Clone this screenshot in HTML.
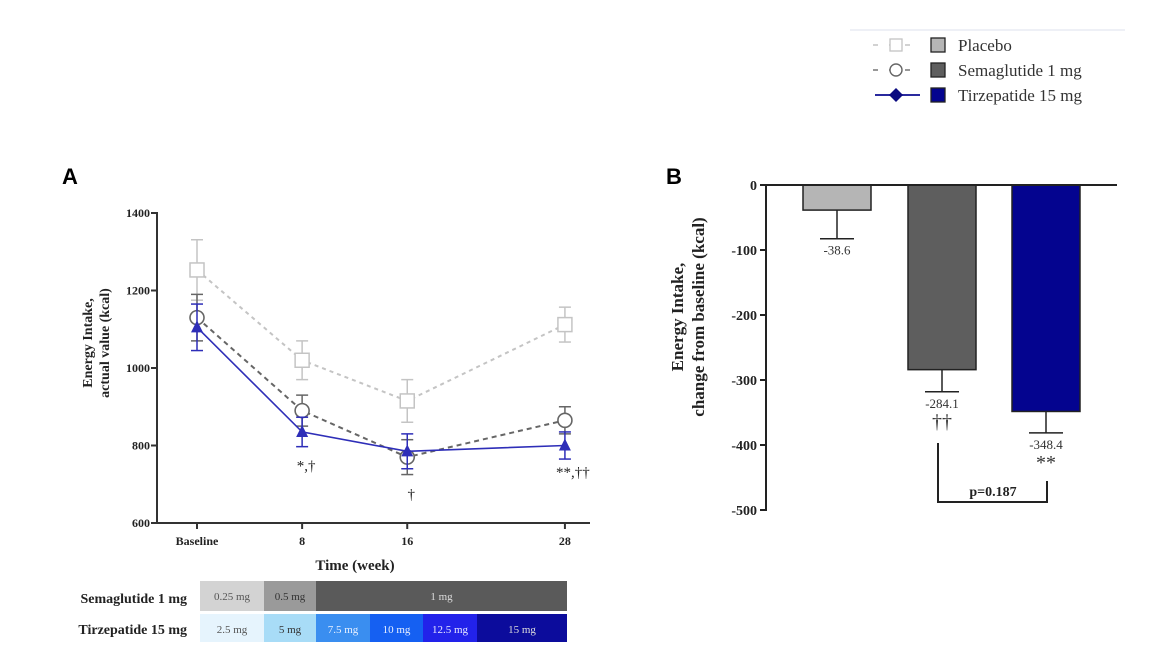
<!DOCTYPE html>
<html><head><meta charset="utf-8"><style>
body{margin:0;background:#fff}
svg{display:block;font-family:"Liberation Serif",serif}
</style></head><body>
<svg id="c" width="1170" height="667" viewBox="0 0 1170 667"></svg>
<script>
const weeks=[0,8,16,28];
const weekLabels=["Baseline","8","16","28"];
const placeboMean=[1253,1020,915,1112];
const placeboErr=[78,50,55,45];
const semaMean=[1130,890,770,865];
const semaErr=[60,40,45,35];
const tirzMean=[1105,835,785,800];
const tirzErr=[60,38,45,35];
const yTicksA=[600,800,1000,1200,1400];
const sigA=["","*,†","†","**,††"];
const barCats=["Placebo","Semaglutide 1 mg","Tirzepatide 15 mg"];
const barVals=[-38.6,-284.1,-348.4];
const barErr=[44,34,33];
const barSig=["","††","**"];
const yTicksB=[0,-100,-200,-300,-400,-500];

const S=document.getElementById('c');const NS='http://www.w3.org/2000/svg';
function el(t,a,p){const e=document.createElementNS(NS,t);for(const k in a)e.setAttribute(k,a[k]);(p||S).appendChild(e);return e;}
function tx(x,y,s,a,p){const e=el('text',Object.assign({x:x,y:y},a),p);e.textContent=s;return e;}

const xA=w=>197+w*13.14;
const yA=v=>523-(v-600)*0.3875;
const gA=el('g',{});
tx(62,184,'A',{'font-family':'Liberation Sans,sans-serif','font-weight':'bold','font-size':22},gA);
el('line',{x1:157,y1:212,x2:157,y2:524,stroke:'#333','stroke-width':2},gA);
el('line',{x1:156,y1:523,x2:590,y2:523,stroke:'#333','stroke-width':2},gA);
yTicksA.forEach(v=>{el('line',{x1:151,y1:yA(v),x2:157,y2:yA(v),stroke:'#333','stroke-width':2},gA);
 const t=tx(150,yA(v)+4,v,{'text-anchor':'end','font-size':12,'font-weight':'bold',fill:'#222'},gA);});
weeks.forEach((w,i)=>{el('line',{x1:xA(w),y1:523,x2:xA(w),y2:529,stroke:'#333','stroke-width':2},gA);
 const t=tx(xA(w),545,weekLabels[i],{'text-anchor':'middle','font-size':12,'font-weight':'bold',fill:'#222'},gA);});
const xt=tx(355,570,'Time (week)',{'text-anchor':'middle','font-size':15,'font-weight':'bold',fill:'#222'},gA);

const yt=el('text',{transform:'translate(98,343) rotate(-90)','text-anchor':'middle','font-size':14,'font-weight':'bold',fill:'#222'},gA);

el('tspan',{x:0,dy:-6},yt).textContent='Energy Intake,';el('tspan',{x:0,dy:17},yt).textContent='actual value (kcal)';

function series(mean,err,color,dash,marker,name){
 const g=el('g',{},gA);
 mean.forEach((m,i)=>{const x=xA(weeks[i]);
  el('line',{x1:x,y1:yA(m-err[i]),x2:x,y2:yA(m+err[i]),stroke:color,'stroke-width':1.5},g);
  [m-err[i],m+err[i]].forEach(v=>el('line',{x1:x-6,y1:yA(v),x2:x+6,y2:yA(v),stroke:color,'stroke-width':1.5},g));});
 el('polyline',{points:mean.map((m,i)=>xA(weeks[i])+','+yA(m)).join(' '),fill:'none',stroke:color,'stroke-width':dash?2:1.6,'stroke-dasharray':dash||'none'},g);
 mean.forEach((m,i)=>{const x=xA(weeks[i]),y=yA(m);let e;
  if(marker==='sq')e=el('rect',{x:x-7,y:y-7,width:14,height:14,fill:'#fff',stroke:color,'stroke-width':1.5},g);
  else if(marker==='ci')e=el('circle',{cx:x,cy:y,r:7,fill:'#fff',stroke:color,'stroke-width':1.6},g);
  else e=el('polygon',{points:`${x},${y-7} ${x-6},${y+5} ${x+6},${y+5}`,fill:color},g);
  });
}
series(placeboMean,placeboErr,'#c4c4c4','4,4','sq','placebo-series');
series(semaMean,semaErr,'#666','5,4','ci','semaglutide-series');
series(tirzMean,tirzErr,'#2e2eb8',null,'tri','tirzepatide-series');
const sigOff=[0,24,30,18];
sigA.forEach((s,i)=>{if(!s)return;const t=tx(xA(weeks[i])+(i===3?8:4),yA(tirzMean[i]-tirzErr[i])+sigOff[i],s,{'text-anchor':'middle','font-size':15,fill:'#222'},gA);});

const dg=el('g',{});
tx(187,603,'Semaglutide 1 mg',{'text-anchor':'end','font-size':14,'font-weight':'bold',fill:'#222'},dg);
tx(187,634,'Tirzepatide 15 mg',{'text-anchor':'end','font-size':14,'font-weight':'bold',fill:'#222'},dg);
const sem=[[200,264,'#d3d3d3','0.25 mg','#555'],[264,316,'#9a9a9a','0.5 mg','#333'],[316,567,'#5a5a5a','1 mg','#ddd']];
const tir=[[200,264,'#e6f4fd','2.5 mg','#555'],[264,316,'#a8dcf7','5 mg','#333'],[316,370,'#3a8ef0','7.5 mg','#e8f0ff'],[370,423,'#1560f2','10 mg','#e8f0ff'],[423,477,'#2222ea','12.5 mg','#e8e8ff'],[477,567,'#0c0c9c','15 mg','#ddd']];
sem.forEach(b=>{const r=el('rect',{x:b[0],y:581,width:b[1]-b[0],height:30,fill:b[2]},dg);tx((b[0]+b[1])/2,600,b[3],{'text-anchor':'middle','font-size':11,fill:b[4]},dg);});
tir.forEach(b=>{const r=el('rect',{x:b[0],y:614,width:b[1]-b[0],height:28,fill:b[2]},dg);tx((b[0]+b[1])/2,633,b[3],{'text-anchor':'middle','font-size':11,fill:b[4]},dg);});

const yB=v=>185-v*0.65;
const gB=el('g',{});
tx(666,184,'B',{'font-family':'Liberation Sans,sans-serif','font-weight':'bold','font-size':22},gB);
const barColors=['#b5b5b5','#5e5e5e','#04048f'];
const barX=[803,908,1012];const bw=68;
barVals.forEach((v,i)=>{const x=barX[i];
 const r=el('rect',{x:x,y:yB(0),width:bw,height:yB(v)-yB(0),fill:barColors[i],stroke:'#222','stroke-width':1.5},gB);
 
 const cx=x+bw/2,ye=yB(v-barErr[i]);
 el('line',{x1:cx,y1:yB(v),x2:cx,y2:ye,stroke:'#222','stroke-width':1.5},gB);
 el('line',{x1:cx-17,y1:ye,x2:cx+17,y2:ye,stroke:'#222','stroke-width':1.5},gB);
 const l=tx(cx,ye+16,v.toFixed(1),{'text-anchor':'middle','font-size':13,fill:'#333'},gB);
 if(barSig[i]){const s=tx(cx,ye+36,barSig[i],{'text-anchor':'middle','font-size':20,fill:'#333'},gB);}
});
el('line',{x1:766,y1:184,x2:766,y2:511,stroke:'#222','stroke-width':2},gB);
el('line',{x1:765,y1:185,x2:1117,y2:185,stroke:'#222','stroke-width':2},gB);
yTicksB.forEach(v=>{el('line',{x1:760,y1:yB(v),x2:766,y2:yB(v),stroke:'#222','stroke-width':2},gB);
 const t=tx(757,yB(v)+5,v,{'text-anchor':'end','font-size':14,'font-weight':'bold',fill:'#222'},gB);});
const ytb=el('text',{transform:'translate(689,317) rotate(-90)','text-anchor':'middle','font-size':17,'font-weight':'bold',fill:'#222'},gB);

el('tspan',{x:0,dy:-6},ytb).textContent='Energy Intake,';el('tspan',{x:0,dy:21},ytb).textContent='change from baseline (kcal)';
const br=el('polyline',{points:'938,443 938,502 1047,502 1047,481',fill:'none',stroke:'#222','stroke-width':2},gB);

const pv=tx(993,496,'p=0.187',{'text-anchor':'middle','font-size':14,'font-weight':'bold',fill:'#222'},gB);

const lg=el('g',{});
el('line',{x1:850,y1:30,x2:1125,y2:30,stroke:'#dde0ee','stroke-width':1},lg);
const legY=[45,70,95];
const legNames=['legend-entry-placebo','legend-entry-semaglutide','legend-entry-tirzepatide'];
legY.forEach((y,i)=>{const g=el('g',{},lg);
 if(i===0){el('line',{x1:873,y1:y,x2:920,y2:y,stroke:'#c4c4c4','stroke-width':1.5,'stroke-dasharray':'5,11'},g);el('rect',{x:890,y:y-6,width:12,height:12,fill:'#fff',stroke:'#c4c4c4','stroke-width':1.3},g);}
 if(i===1){el('line',{x1:873,y1:y,x2:920,y2:y,stroke:'#777','stroke-width':1.5,'stroke-dasharray':'5,11'},g);el('circle',{cx:896,cy:y,r:6,fill:'#fff',stroke:'#666','stroke-width':1.4},g);}
 if(i===2){el('line',{x1:875,y1:y,x2:920,y2:y,stroke:'#2a2a9e','stroke-width':2},g);el('polygon',{points:`896,${y-7} 903,${y} 896,${y+7} 889,${y}`,fill:'#0a0a80'},g);}
 el('rect',{x:931,y:y-7,width:14,height:14,fill:barColors[i],stroke:'#222','stroke-width':1.3},g);
 tx(958,y+6,barCats[i],{'font-size':17,fill:'#333'},g);
});
</script>
</body></html>
